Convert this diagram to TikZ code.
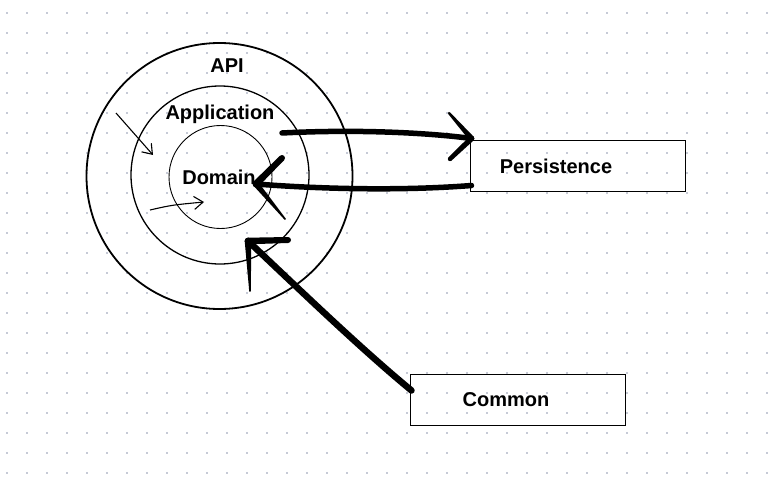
\documentclass[tikz,border=0pt]{standalone}
\usepackage{fontspec}
\setmainfont{Liberation Sans}
\usetikzlibrary{arrows.meta,calc}
\definecolor{dotc}{HTML}{C6CAD6}
\newcommand\brushline[4]{%
  \fill ($(#1)!#3!90:(#2)$) -- ($(#2)!#4!-90:(#1)$) -- ($(#2)!#4!90:(#1)$) -- ($(#1)!#3!-90:(#2)$) -- cycle;
  \fill (#1) circle (#3);
  \fill (#2) circle (#4);}
\begin{document}
\begin{tikzpicture}[x=1pt,y=-1pt,
  ring/.style={circle,draw,inner sep=0pt},
  lbl/.style={font=\bfseries\fontsize{20}{24}\selectfont,inner sep=0pt},
  box/.style={draw,line width=1pt,minimum width=215pt,minimum height=51pt,inner sep=0pt},
  thinarrow/.style={line width=1.1pt,-{Straight Barb[length=9pt,width=13pt,line width=1.1pt]}},
  shaft/.style={line width=5.5pt,line cap=round},
]
\useasboundingbox (0,0) rectangle (773,492);
\foreach \i in {0,...,38} \foreach \j in {0,...,23} \fill[dotc] (6+20*\i,12+20*\j) rectangle +(2,2);

% rings
\node[ring, minimum size=266pt, line width=1.8pt] (api) at (219.5,176) {};
\node[ring, minimum size=178pt, line width=1.3pt] (app) at (220,175) {};
\node[ring, minimum size=103pt, line width=0.9pt] (dom) at (220.5,177) {};
\node[lbl] (apil) at (227,66) {API};
\node[lbl] (appl) at (220,114) {Application};
\node[lbl] (doml) at (219,177) {Domain};

% boxes
\node[box] (pers) at (577.5,165.5) {};
\node[lbl] (persl) at (556,166) {Persistence};
\node[box] (comm) at (517.5,399.5) {};
\node[lbl] (comml) at (506,400) {Common};

% thin arrows
\coordinate (t1s) at (116,113);
\coordinate (t1e) at (153,155);
\draw[thinarrow] (t1s) -- (t1e);
\coordinate (t2s) at (150,210);
\coordinate (t2e) at (204,202);
\draw[thinarrow] (t2s) .. controls (172,205) .. (t2e);

% arrow to Persistence
\coordinate (a1s) at (282,133);
\coordinate (a1t) at ($(pers.north west)+(2,-1)$);
\draw[shaft] (a1s) .. controls (360,129) and (430,133) .. (a1t);
\brushline{a1t}{449,113}{2.8pt}{1.2pt}
\brushline{a1t}{450,159}{2.8pt}{2.2pt}

% arrow from Persistence to Domain
\coordinate (a2s) at ($(pers.south west)+(2,-6)$);
\coordinate (a2t) at (256,184);
\draw[shaft] (a2s) .. controls (400,191) and (320,189) .. (a2t);
\brushline{a2t}{282,158}{3.5pt}{3pt}
\brushline{a2t}{285,219}{3pt}{0.8pt}

% arrow from Common
\coordinate (a3s) at ($(comm.north west)+(2,17)$);
\coordinate (a3t) at (248,241);
\draw[line width=6.5pt,line cap=round] (a3s) .. controls (360,348) and (300,290) .. (a3t);
\brushline{a3t}{288,240}{3.3pt}{3pt}
\brushline{a3t}{250,291}{3.3pt}{0.8pt}
\end{tikzpicture}
\end{document}
